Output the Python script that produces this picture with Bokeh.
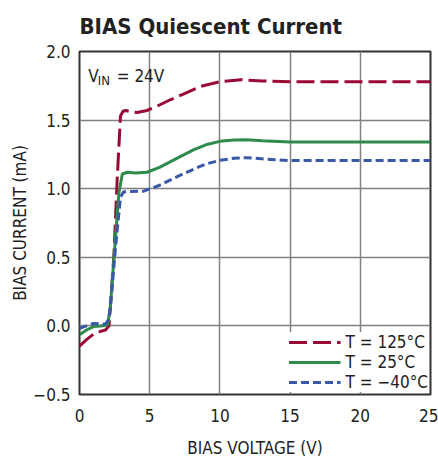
from bokeh.plotting import figure
from bokeh.models import Range1d, FixedTicker, CustomJSTickFormatter, Label, Legend, LegendItem
from bokeh.embed import file_html
from bokeh.resources import INLINE

v_hot = [0, 0.5, 1.0, 1.5, 1.85, 2.1, 2.2, 2.45, 2.69, 2.92, 3.1, 3.3, 3.7, 4.1, 4.8, 5.5, 6.5, 7.4, 8.6, 10, 11.5, 13, 15, 20, 25]
i_hot = [-0.147, -0.10, -0.06, -0.04, -0.03, 0.0, 0.137, 0.515, 1.08, 1.53, 1.565, 1.57, 1.56, 1.555, 1.57, 1.60, 1.65, 1.69, 1.745, 1.78, 1.794, 1.785, 1.78, 1.78, 1.78]

v_room = [0, 0.5, 1.0, 1.5, 2.0, 2.2, 2.45, 2.8, 3.05, 3.4, 4.0, 4.8, 5.7, 7.0, 8.15, 9, 10, 11, 11.9, 13, 15, 20, 25]
i_room = [-0.065, -0.03, -0.005, 0.0, 0.006, 0.14, 0.49, 0.965, 1.107, 1.12, 1.115, 1.12, 1.155, 1.225, 1.285, 1.32, 1.345, 1.355, 1.356, 1.35, 1.34, 1.34, 1.34]

v_cold = [0, 0.5, 1.0, 1.5, 1.85, 2.1, 2.3, 2.56, 2.92, 3.15, 3.6, 4.57, 5.7, 7.0, 8.15, 9, 10, 11, 11.9, 13, 15, 20, 25]
i_cold = [-0.017, 0.0, 0.018, 0.015, 0.013, 0.05, 0.25, 0.565, 0.94, 0.977, 0.98, 0.982, 1.025, 1.09, 1.143, 1.18, 1.207, 1.222, 1.226, 1.218, 1.205, 1.205, 1.205]

x_ticks = [0, 5, 10, 15, 20, 25]
y_ticks = [-0.5, 0, 0.5, 1.0, 1.5, 2.0]
labels = ["T = 125°C", "T = 25°C", "T = \u221240°C"]
title_text = "BIAS Quiescent Current"

FONT = "'DejaVu Sans Condensed', Roboto, sans-serif"

p = figure(width=438, height=460, output_backend="svg", toolbar_location=None,
           x_range=Range1d(0, 25), y_range=Range1d(-0.5, 2.0),
           min_border_left=79, min_border_right=8, min_border_top=51, min_border_bottom=57)

p.title.text = title_text
p.title.text_font = FONT
p.title.text_font_size = "22px"
p.title.text_font_style = "bold"
p.title.text_color = "#222222"
p.title.align = "left"
p.title.vertical_align = "top"
p.title.offset = 0
p.title.standoff = 21

p.outline_line_color = "#333333"
p.outline_line_width = 2

for ax in (p.xaxis, p.yaxis):
    ax.axis_line_color = None
    ax.major_tick_line_color = None
    ax.minor_tick_line_color = None
    ax.major_tick_out = 0
    ax.major_tick_in = 0
    ax.minor_tick_out = 0
    ax.minor_tick_in = 0
    ax.major_label_text_font = FONT
    ax.major_label_text_font_size = "17px"
    ax.major_label_text_color = "#222222"
    ax.axis_label_text_font = FONT
    ax.axis_label_text_font_size = "17px"
    ax.axis_label_text_font_style = "normal"
    ax.axis_label_text_color = "#222222"

p.xaxis.ticker = FixedTicker(ticks=x_ticks)
p.yaxis.ticker = FixedTicker(ticks=y_ticks)
p.yaxis.formatter = CustomJSTickFormatter(code="return tick.toFixed(1).replace('-', '\\u2212');")
p.xaxis.formatter = CustomJSTickFormatter(code="return tick.toFixed(0);")
p.xaxis.axis_label = "BIAS VOLTAGE (V)"
p.yaxis.axis_label = "BIAS CURRENT (mA)"
p.xaxis.major_label_standoff = 14
p.yaxis.major_label_standoff = 9
p.xaxis.axis_label_standoff = 13
p.yaxis.axis_label_standoff = 0

p.xgrid.ticker = FixedTicker(ticks=x_ticks)
p.ygrid.ticker = FixedTicker(ticks=y_ticks)
for g in (p.xgrid, p.ygrid):
    g.grid_line_color = "#808080"
    g.grid_line_width = 1.5

r1 = p.line(v_hot, i_hot, line_color="#990a35", line_width=3, line_dash="18 6")
r2 = p.line(v_room, i_room, line_color="#2e8b4c", line_width=3)
r3 = p.line(v_cold, i_cold, line_color="#3a58a8", line_width=3, line_dash="8 4")

legend = Legend(items=[LegendItem(label=labels[0], renderers=[r1]),
                       LegendItem(label=labels[1], renderers=[r2]),
                       LegendItem(label=labels[2], renderers=[r3])],
                location="bottom_right", glyph_width=52, glyph_height=20,
                label_text_font=FONT, label_text_font_size="17px", label_text_color="#222222",
                background_fill_color="white", background_fill_alpha=1.0,
                border_line_color=None, spacing=0, padding=4, margin=2,
                label_standoff=5, label_height=20)
p.add_layout(legend)

p.add_layout(Label(x=0.62, y=1.822, text="V", text_font=FONT, text_font_size="17px",
                   text_color="#222222", text_baseline="alphabetic"))
p.add_layout(Label(x=1.3, y=1.79, text="IN", text_font=FONT, text_font_size="13px",
                   text_color="#222222", text_baseline="alphabetic"))
p.add_layout(Label(x=2.65, y=1.822, text="= 24V", text_font=FONT, text_font_size="17px",
                   text_color="#222222", text_baseline="alphabetic"))

open("out.html", "w").write(file_html(p, INLINE))
